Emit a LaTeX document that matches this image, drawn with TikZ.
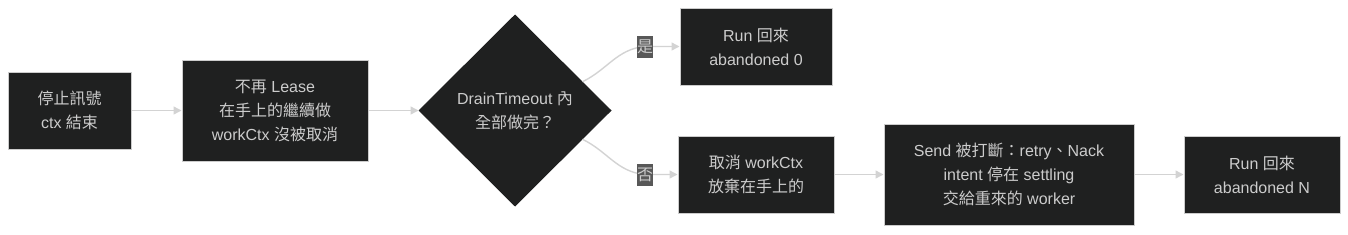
\documentclass[tikz,border=0pt]{standalone}
\usepackage{fontspec}
\setmainfont{Liberation Sans}
\newfontfamily\cjk{Noto Sans CJK TC}
\usetikzlibrary{arrows.meta,shapes.geometric,calc}

\definecolor{nodefill}{HTML}{1F2020}
\definecolor{nodeline}{HTML}{CCCCCC}
\definecolor{nodetext}{HTML}{CCCCCC}
\definecolor{edgeline}{HTML}{D3D3D3}
\definecolor{lblfill}{HTML}{585858}

\begin{document}
\begin{tikzpicture}[
  x=1pt, y=-1pt,
  box/.style={draw=nodeline, fill=nodefill, text=nodetext, line width=1pt, inner sep=0pt,
    align=center, font=\fontsize{16}{24}\selectfont},
  decide/.style={box, diamond, draw=nodefill, minimum width=192, minimum height=191},
  edge/.style={-{Triangle[length=8pt,width=8pt]}, draw=edgeline, line width=1.4pt},
  lbl/.style={fill=lblfill, text=nodetext, inner sep=0pt, minimum width=16, minimum height=22,
    font=\fontsize{16}{20}\selectfont\cjk}
]
  \useasboundingbox (0,0) rectangle (1348,234);

  \node[box, minimum width=123, minimum height=77] (stop) at (69.5,110.5) {{\cjk 停止訊號}\\ctx {\cjk 結束}};
  \node[box, minimum width=186, minimum height=101] (nolease) at (275,110.5) {{\cjk 不再} Lease\\{\cjk 在手上的繼續做}\\workCtx {\cjk 沒被取消}};
  \node[decide] (drain) at (515,110.5) {DrainTimeout {\cjk 內}\\{\cjk 全部做完？}};
  \node[box, minimum width=152, minimum height=77] (ok) at (756,46.5) {Run {\cjk 回來}\\abandoned 0};
  \node[box, minimum width=156, minimum height=77] (cancel) at (756,174.5) {{\cjk 取消} workCtx\\{\cjk 放棄在手上的}};
  \node[box, minimum width=250, minimum height=101] (send) at (1009,174.5) {Send {\cjk 被打斷：}retry{\cjk 、}Nack\\intent {\cjk 停在} settling\\{\cjk 交給重來的} worker};
  \node[box, minimum width=156, minimum height=77] (fail) at (1262,174.5) {Run {\cjk 回來}\\abandoned N};

  \coordinate (yesmid) at (645,46.5);
  \coordinate (nomid) at (645,174.5);

  \draw[edge] (stop) -- (nolease);
  \draw[edge] (nolease) -- (drain);
  \draw[edge] ($(drain.north east)!0.4!(drain.east)$) to[out=26,in=185] (yesmid) node[lbl] (yes) {是} -- (ok);
  \draw[edge] ($(drain.south east)!0.4!(drain.east)$) to[out=-26,in=175] (nomid) node[lbl] (no) {否} -- (cancel);
  \draw[edge] (cancel) -- (send);
  \draw[edge] (send) -- (fail);
\end{tikzpicture}
\end{document}
